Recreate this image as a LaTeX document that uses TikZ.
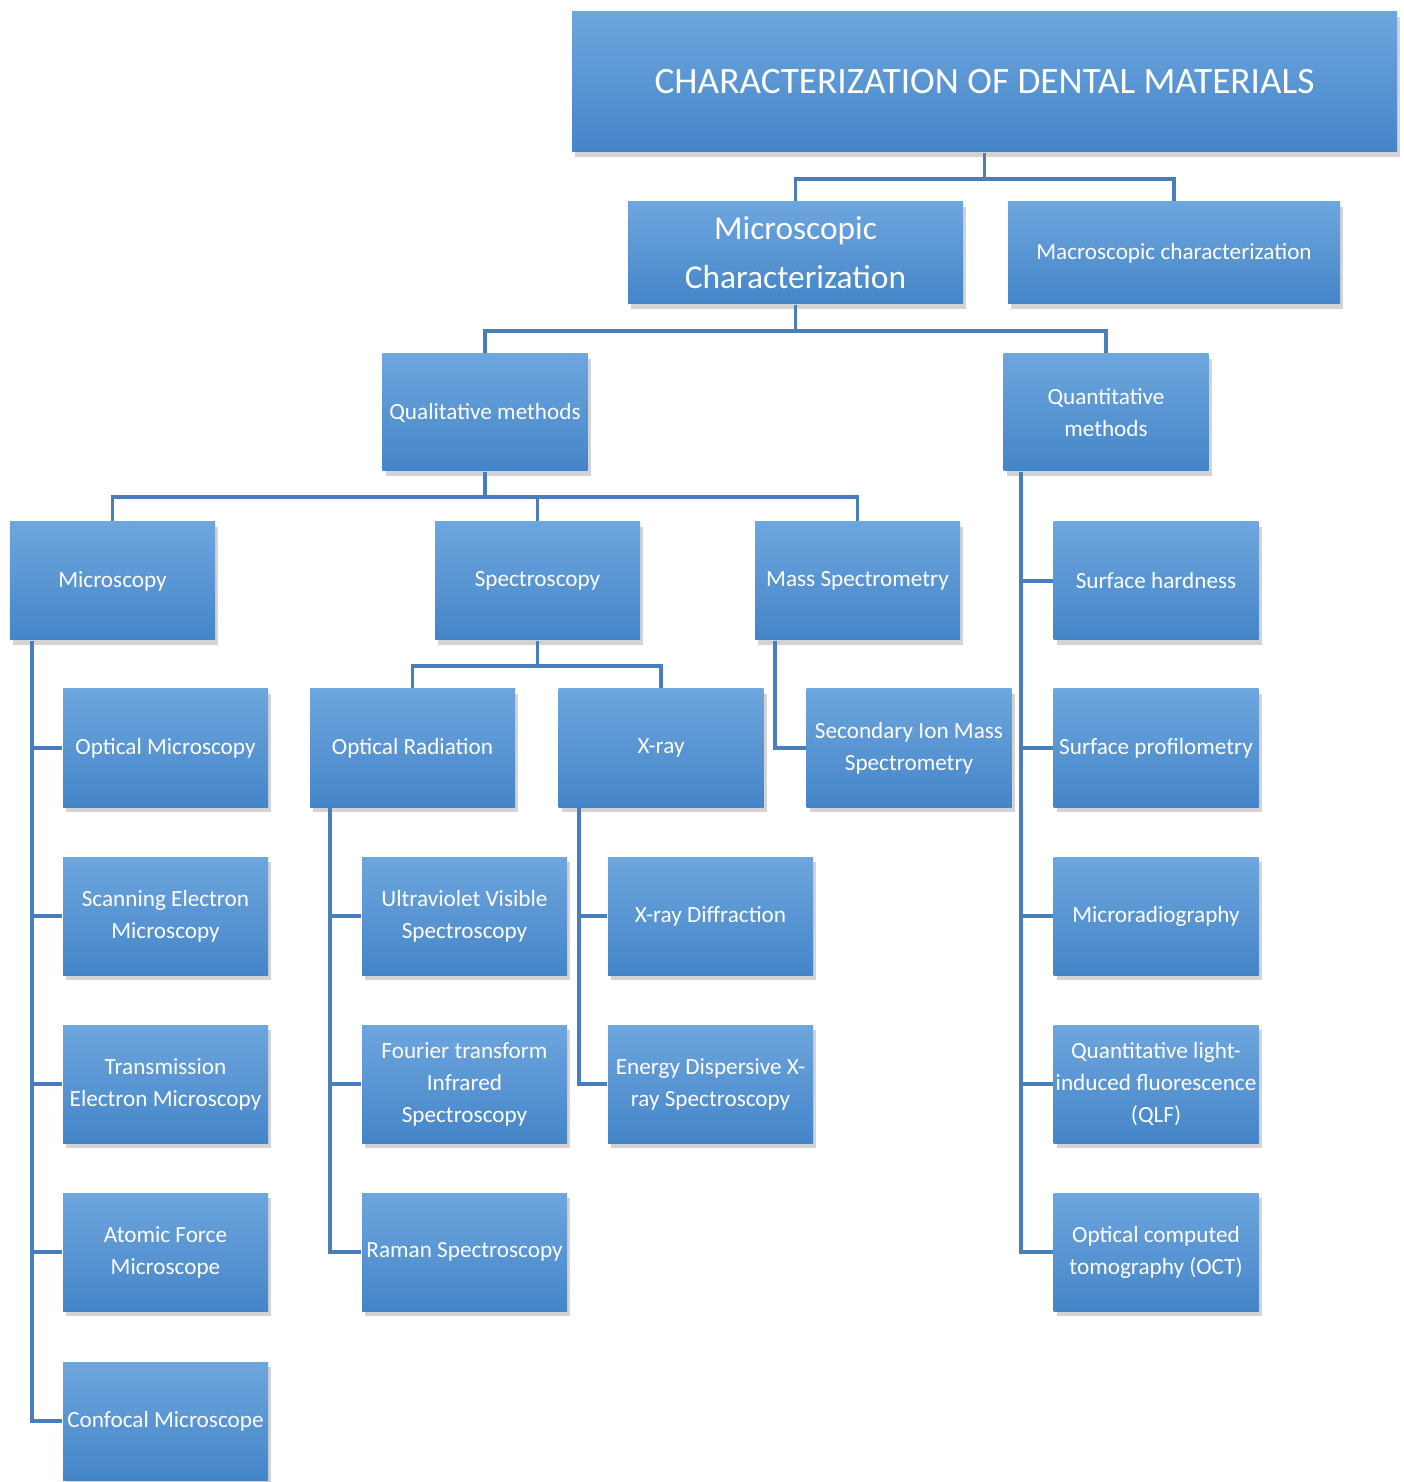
\documentclass[tikz,border=0pt]{standalone}
\usepackage{fontspec}
\setmainfont{Carlito}
\usetikzlibrary{positioning, shadows}
\definecolor{boxtop}{HTML}{6EA6DE}
\definecolor{boxmid}{HTML}{579BDC}
\definecolor{boxbot}{HTML}{4485C8}
\definecolor{wire}{HTML}{4A7EBB}

\begin{document}
\begin{tikzpicture}[
    every node/.style={font=\fontsize{6.6}{9.1}\selectfont, text=white},
    box/.style={rectangle, inner xsep=0pt, inner ysep=1pt, align=center,
                minimum width=2.05cm, minimum height=1.18cm,
                top color=boxtop, middle color=boxmid, bottom color=boxbot,
                drop shadow={shadow xshift=0.03cm, shadow yshift=-0.05cm, opacity=0.35}},
    conn/.style={draw=wire, line width=1.1pt}
  ]
    \useasboundingbox (0,0) rectangle (14.03,-14.82);

    % top levels
    \node[box, minimum width=8.25cm, minimum height=1.4cm,
          font=\fontsize{10.6}{12}\selectfont] (title) at (9.845,-0.82)
          {CHARACTERIZATION OF DENTAL MATERIALS};
    \node[box, minimum width=3.35cm, minimum height=1.02cm,
          font=\fontsize{9.5}{13.9}\selectfont] (micro) at (7.955,-2.53)
          {Microscopic\\Characterization};
    \node[box, minimum width=3.32cm, minimum height=1.02cm] (macro) at (11.74,-2.53)
          {Macroscopic characterization};
    \node[box, minimum height=1.17cm] (qual) at (4.85,-4.125) {Qualitative methods};
    \node[box, minimum height=1.17cm] (quant) at (11.06,-4.125) {Quantitative\\methods};

    % row 1
    \node[box] (microscopy) at (1.125,-5.81) {Microscopy};
    \node[box] (spectro) at (5.375,-5.81) {Spectroscopy};
    \node[box] (mass) at (8.575,-5.81) {Mass Spectrometry};
    \node[box] (hardness) at (11.56,-5.81) {Surface hardness};

    % row 2
    \node[box] (optmic) at (1.655,-7.48) {Optical Microscopy};
    \node[box] (optrad) at (4.125,-7.48) {Optical Radiation};
    \node[box] (xray) at (6.61,-7.48) {X-ray};
    \node[box] (sims) at (9.09,-7.48) {Secondary Ion Mass\\Spectrometry};
    \node[box] (profil) at (11.56,-7.48) {Surface profilometry};

    % row 3
    \node[box] (sem) at (1.655,-9.16) {Scanning Electron\\Microscopy};
    \node[box] (uvvis) at (4.645,-9.16) {Ultraviolet Visible\\Spectroscopy};
    \node[box] (xrd) at (7.105,-9.16) {X-ray Diffraction};
    \node[box] (microrad) at (11.56,-9.16) {Microradiography};

    % row 4
    \node[box] (tem) at (1.655,-10.84) {Transmission\\Electron Microscopy};
    \node[box] (ftir) at (4.645,-10.84) {Fourier transform\\Infrared\\Spectroscopy};
    \node[box] (edx) at (7.105,-10.84) {Energy Dispersive X-\\ray Spectroscopy};
    \node[box] (qlf) at (11.56,-10.84) {Quantitative light-\\induced fluorescence\\(QLF)};

    % row 5
    \node[box] (afm) at (1.655,-12.52) {Atomic Force\\Microscope};
    \node[box] (raman) at (4.645,-12.52) {Raman Spectroscopy};
    \node[box] (oct) at (11.56,-12.52) {Optical computed\\tomography (OCT)};

    % row 6
    \node[box] (confocal) at (1.655,-14.21) {Confocal Microscope};

    % forks
    \draw[conn] (title.south) -- ++(0,-0.26) -| (micro.north);
    \draw[conn] (title.south) -- ++(0,-0.26) -| (macro.north);
    \draw[conn] (micro.south) -- ++(0,-0.26) -| (qual.north);
    \draw[conn] (micro.south) -- ++(0,-0.26) -| (quant.north);
    \draw[conn] (qual.south) -- ++(0,-0.25) -| (microscopy.north);
    \draw[conn] (qual.south) -- ++(0,-0.25) -| (spectro.north);
    \draw[conn] (qual.south) -- ++(0,-0.25) -| (mass.north);
    \draw[conn] (spectro.south) -- ++(0,-0.25) -| (optrad.north);
    \draw[conn] (spectro.south) -- ++(0,-0.25) -| (xray.north);

    % side rails
    \foreach \kid in {optmic, sem, tem, afm, confocal}
      \draw[conn] ([xshift=0.23cm]microscopy.south west) |- (\kid.west);
    \foreach \kid in {uvvis, ftir, raman}
      \draw[conn] ([xshift=0.21cm]optrad.south west) |- (\kid.west);
    \foreach \kid in {xrd, edx}
      \draw[conn] ([xshift=0.21cm]xray.south west) |- (\kid.west);
    \draw[conn] ([xshift=0.21cm]mass.south west) |- (sims.west);
    \foreach \kid in {hardness, profil, microrad, qlf, oct}
      \draw[conn] ([xshift=0.18cm]quant.south west) |- (\kid.west);
  \end{tikzpicture}
\end{document}
